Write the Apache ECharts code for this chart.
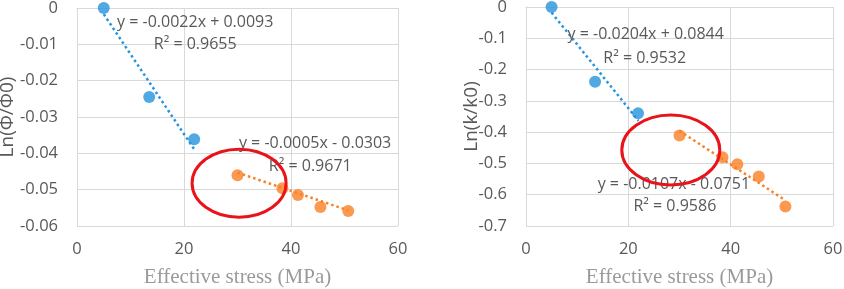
<!DOCTYPE html>
<html>
<head>
<meta charset="utf-8">
<script src="https://cdn.jsdelivr.net/npm/echarts@6/dist/echarts.min.js"></script>
<style>
  html, body { margin: 0; padding: 0; background: #fff; }
  #chart { width: 844px; height: 289px; }
</style>
</head>
<body>
<div id="chart"></div>
<script>
// stress values (MPa), both panels
var stressLow = [5.0, 13.5, 21.9];
var stressHigh = [30.0, 38.4, 41.3, 45.5, 50.7];

// left panel: ln(phi/phi0)
var phiLow = [0, -0.0245, -0.0361];
var phiHigh = [-0.0460, -0.0496, -0.0515, -0.0548, -0.0559];
// right panel: ln(k/k0)
var kLow = [0, -0.239, -0.340];
var kHigh = [-0.411, -0.480, -0.503, -0.542, -0.638];

// trendline end points [x, y]
var phiTrendLow = [[5.0, -0.0017], [22.0, -0.0391]];
var phiTrendHigh = [[30.0, -0.0453], [50.7, -0.0557]];
var kTrendLow = [[5.0, -0.018], [22.0, -0.364]];
var kTrendHigh = [[30.0, -0.396], [50.7, -0.618]];

// annotation texts with their centre in data units
var phiNotes = [
  { text: 'y = -0.0022x + 0.0093', at: [22.1, -0.0039] },
  { text: 'R² = 0.9655', at: [22.1, -0.0099] },
  { text: 'y = -0.0005x - 0.0303', at: [44.5, -0.0372] },
  { text: 'R² = 0.9671', at: [43.6, -0.0435] }
];
var kNotes = [
  { text: 'y = -0.0204x + 0.0844', at: [23.4, -0.089] },
  { text: 'R² = 0.9532', at: [23.2, -0.163] },
  { text: 'y = -0.0107x - 0.0751', at: [28.9, -0.566] },
  { text: 'R² = 0.9586', at: [29.1, -0.639] }
];
var phiCircle = [30.3, -0.0482];
var kCircle = [28.3, -0.457];

var blue = '#2694dc';
var orange = '#fa8024';
var textGray = '#595959';
var gridGray = '#d9d9d9';

function pairs(xs, ys) {
  var out = [];
  for (var i = 0; i < xs.length; i++) out.push([xs[i], ys[i]]);
  return out;
}

function xAxisFor(idx) {
  return {
    gridIndex: idx, type: 'value', min: 0, max: 60, interval: 20,
    name: 'Effective stress (MPa)', nameLocation: 'middle', nameGap: 41,
    nameMoveOverlap: false,
    nameTextStyle: { fontFamily: 'Liberation Serif', fontSize: 21, color: '#9a9a9a' },
    axisLine: { show: true, lineStyle: { color: gridGray } },
    axisTick: { show: false },
    axisLabel: { color: textGray, fontSize: 16.5, fontFamily: 'Open Sans', margin: 15 },
    splitLine: { show: true, lineStyle: { color: gridGray, width: 1 } }
  };
}

function yAxisFor(idx, min, step, title, gap) {
  return {
    gridIndex: idx, type: 'value', min: min, max: 0, interval: step,
    name: title, nameLocation: 'middle', nameGap: gap, nameRotate: 90,
    nameMoveOverlap: false,
    nameTextStyle: { fontFamily: 'Open Sans', fontSize: 19, color: textGray },
    axisLine: { show: true, lineStyle: { color: gridGray } },
    axisTick: { show: false },
    axisLabel: {
      color: textGray, fontSize: 16.5, fontFamily: 'Open Sans', margin: 19,
      formatter: function (v) { return String(Math.round(v * 100) / 100); }
    },
    splitLine: { show: true, lineStyle: { color: gridGray, width: 1 } }
  };
}

function dots(idx, xs, ys, color) {
  return {
    type: 'scatter', xAxisIndex: idx, yAxisIndex: idx,
    data: pairs(xs, ys), symbolSize: 12, z: 5,
    itemStyle: { color: color }
  };
}

function trend(idx, pts, color) {
  return {
    type: 'line', xAxisIndex: idx, yAxisIndex: idx,
    data: pts, showSymbol: false, silent: true, z: 3,
    lineStyle: { color: color, width: 2.5, type: [2.5, 3] }
  };
}

var chart = echarts.init(document.getElementById('chart'));
chart.setOption({
  animation: false,
  grid: [
    { left: 77, top: 8, width: 321, height: 218, outerBoundsMode: 'none' },
    { left: 526, top: 7, width: 307, height: 219, outerBoundsMode: 'none' }
  ],
  xAxis: [xAxisFor(0), xAxisFor(1)],
  yAxis: [
    yAxisFor(0, -0.06, 0.01, 'Ln(Φ/Φ0)', 60),
    yAxisFor(1, -0.7, 0.1, 'Ln(k/k0)', 45)
  ],
  series: [
    trend(0, phiTrendLow, blue),
    trend(0, phiTrendHigh, orange),
    dots(0, stressLow, phiLow, blue),
    dots(0, stressHigh, phiHigh, orange),
    trend(1, kTrendLow, blue),
    trend(1, kTrendHigh, orange),
    dots(1, stressLow, kLow, blue),
    dots(1, stressHigh, kHigh, orange)
  ]
});

// notes and red ellipses placed from data coordinates
var gfx = [];
function addNotes(idx, notes) {
  notes.forEach(function (n) {
    var p = chart.convertToPixel({ gridIndex: idx }, n.at);
    gfx.push({
      type: 'text', x: p[0], y: p[1], z: 20,
      style: {
        text: n.text, fill: textGray, fontSize: 16, fontFamily: 'Open Sans',
        align: 'center', verticalAlign: 'middle'
      }
    });
  });
}
function addRing(idx, at, rx, ry) {
  var p = chart.convertToPixel({ gridIndex: idx }, at);
  gfx.push({
    type: 'ellipse', z: 30,
    shape: { cx: p[0], cy: p[1], rx: rx, ry: ry },
    style: { fill: 'none', stroke: '#e8141a', lineWidth: 3 }
  });
}
addNotes(0, phiNotes);
addNotes(1, kNotes);
addRing(0, phiCircle, 47, 34);
addRing(1, kCircle, 49, 35);
chart.setOption({ graphic: gfx });
</script>
</body>
</html>
